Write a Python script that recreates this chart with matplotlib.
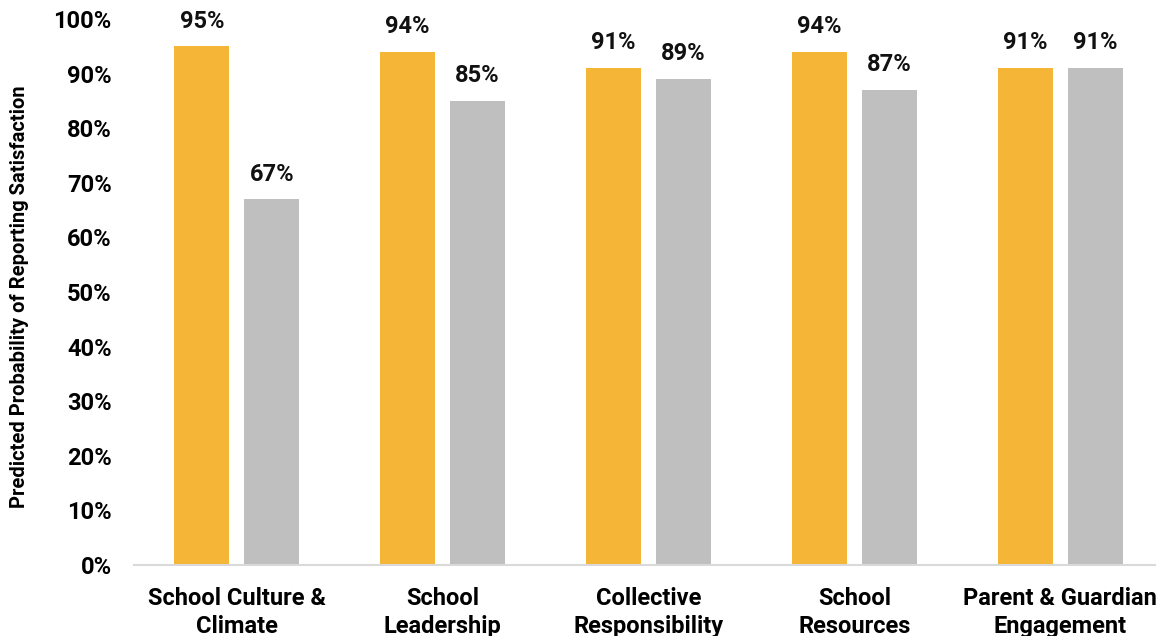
import numpy as np
import matplotlib.pyplot as plt

categories = ["School Culture &\nClimate", "School\nLeadership", "Collective\nResponsibility",
              "School\nResources", "Parent & Guardian\nEngagement"]
series_a = [95, 94, 91, 94, 91]
series_b = [67, 85, 89, 87, 91]

plt.rcParams['font.family'] = ['Roboto', 'DejaVu Sans']
plt.rcParams['font.weight'] = 'bold'

fig = plt.figure(figsize=(11.56, 6.36), dpi=100)
ax = fig.add_axes([134 / 1156, (636 - 565) / 636, (1163 - 134) / 1156, (565 - 19) / 636])

x = np.arange(len(categories))
w = 0.267
off = 0.17
b1 = ax.bar(x - off, series_a, w, color='#F5B638')
b2 = ax.bar(x + off, series_b, w, color='#BFBFBF')

# value labels above the bars
for bars, vals in ((b1, series_a), (b2, series_b)):
    for r, v in zip(bars, vals):
        ax.text(r.get_x() + r.get_width() / 2, v + 2.5, f"{v}%", ha='center', va='bottom',
                fontsize=17, fontweight='bold', color='#111111')

ax.set_xlim(-0.5, 4.5)
ax.set_ylim(0, 100)
ax.set_yticks(range(0, 101, 10))
ax.set_yticklabels([f"{t}%" for t in range(0, 101, 10)], fontsize=17, fontweight='bold')
ax.set_xticks(x)
ax.set_xticklabels(categories, fontsize=17, fontweight='bold', linespacing=1.25)
ax.tick_params(axis='both', length=0)
ax.tick_params(axis='y', pad=16)
ax.tick_params(axis='x', pad=16)
for s in ('top', 'right', 'left'):
    ax.spines[s].set_visible(False)
ax.spines['bottom'].set_color('#D9D9D9')
ax.spines['bottom'].set_linewidth(1.5)

fig.text(20 / 1156, (636 - 297) / 636, "Predicted Probability of Reporting Satisfaction",
         rotation=90, ha='center', va='center', fontsize=14.5, fontweight='bold')

fig.savefig('out.png', dpi=100)
